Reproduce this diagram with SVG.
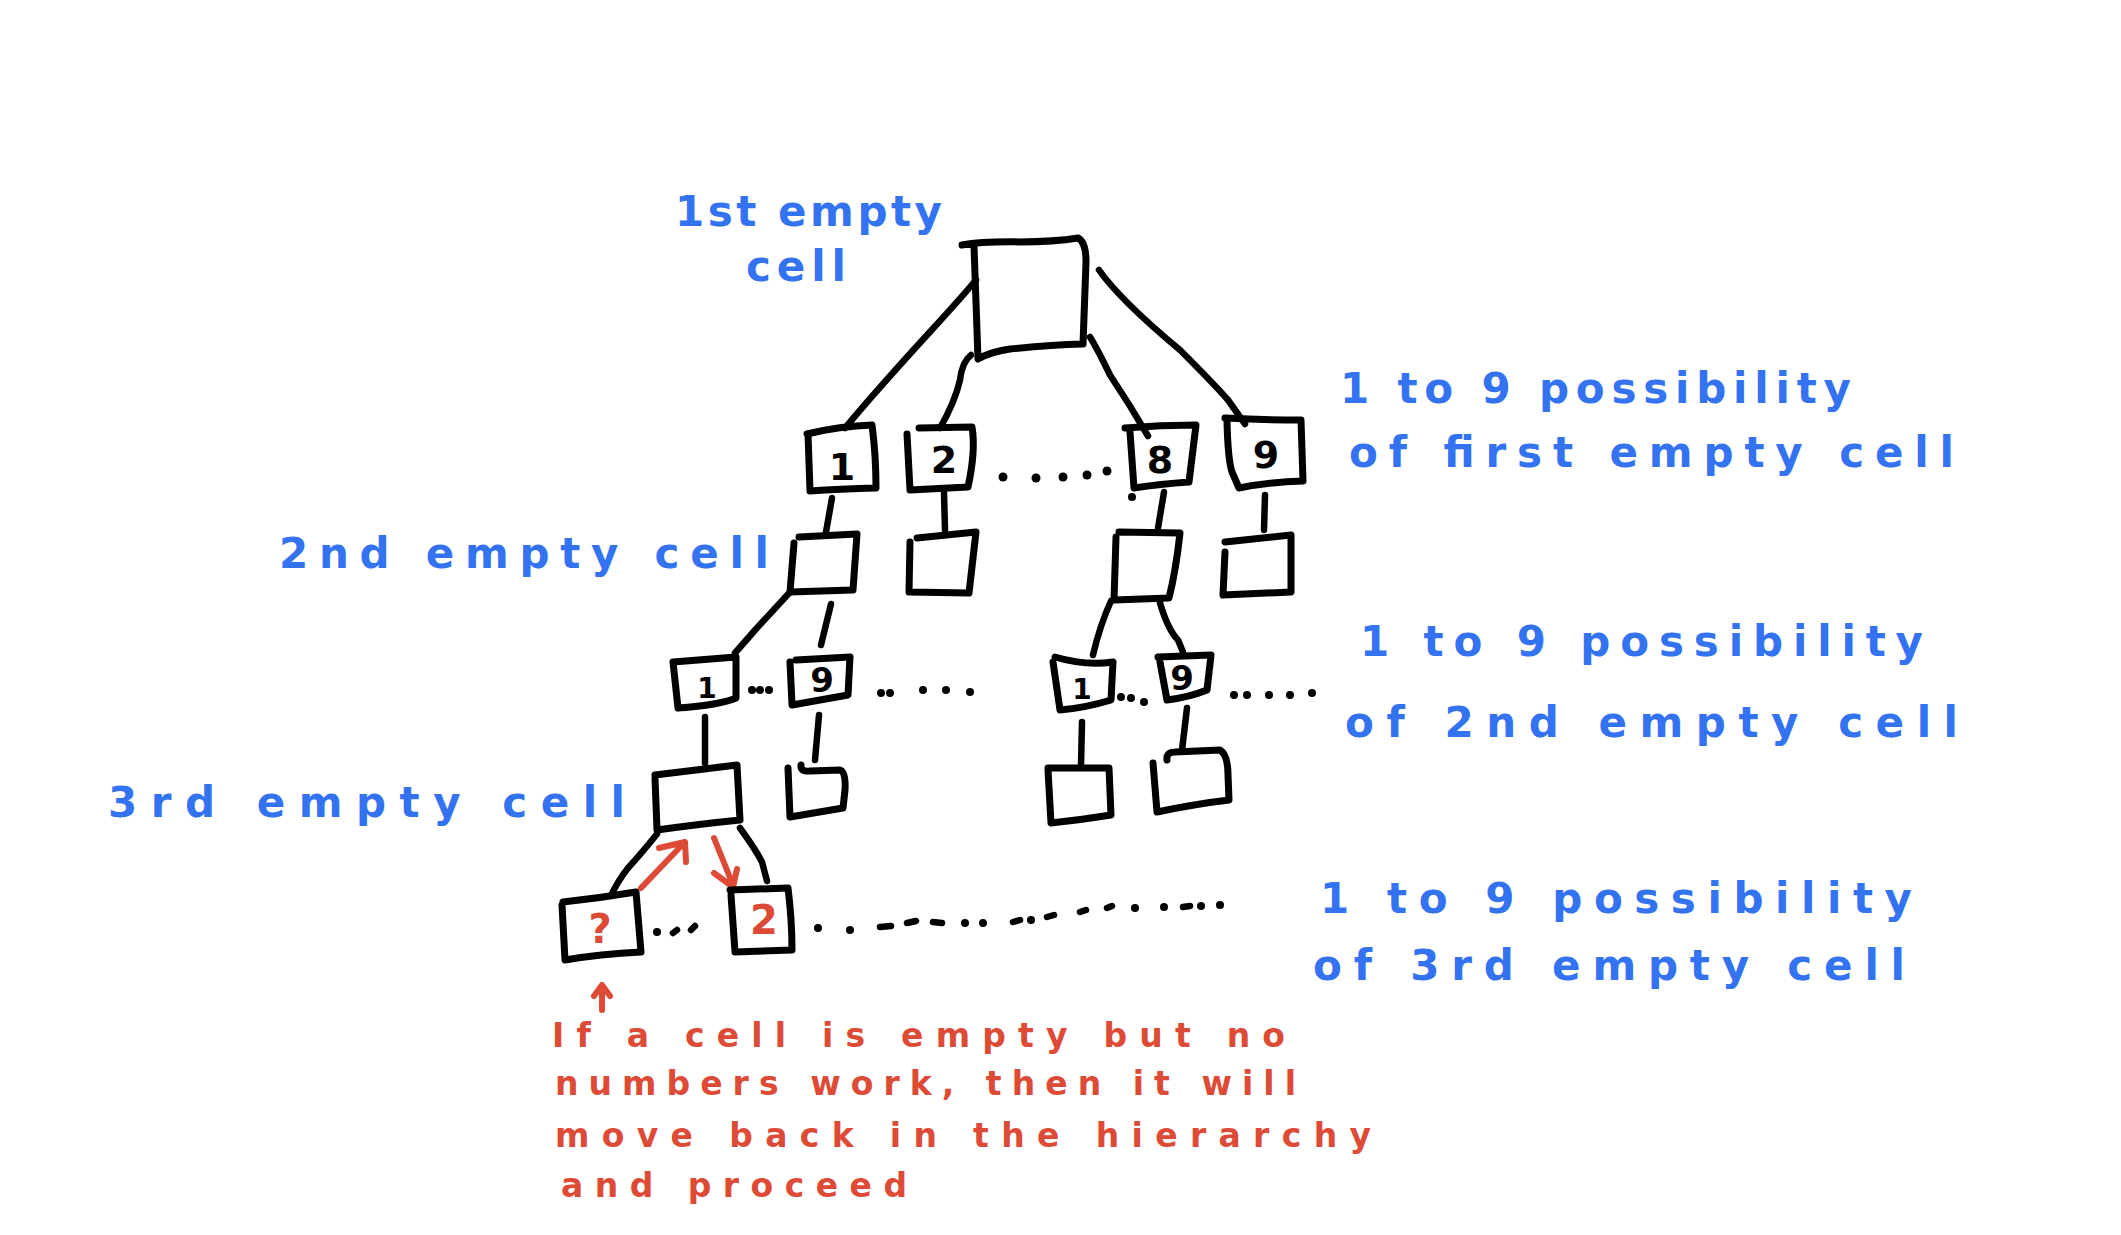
<svg xmlns="http://www.w3.org/2000/svg" width="2121" height="1235" viewBox="0 0 2121 1235">
<style>
.bx{fill:none;stroke:#000;stroke-width:7;stroke-linecap:round;stroke-linejoin:round}
.ln{fill:none;stroke:#000;stroke-width:6.5;stroke-linecap:round;stroke-linejoin:round}
.rl{fill:none;stroke:#DD4A36;stroke-width:6;stroke-linecap:round;stroke-linejoin:round}
.dt{fill:#000}
.bl{fill:#3372F0;font-family:"DejaVu Sans","Noto Sans",sans-serif;font-size:42px;font-weight:700}
.rd{fill:#DD4A36;font-family:"DejaVu Sans","Noto Sans",sans-serif;font-size:33px;font-weight:700}
.nm{fill:#000;font-family:"DejaVu Sans","Noto Sans",sans-serif;font-weight:700;text-anchor:middle}
.nr{fill:#DD4A36;font-family:"DejaVu Sans","Noto Sans",sans-serif;font-weight:700;text-anchor:middle;font-size:40px}
</style>
<rect width="2121" height="1235" fill="#fff"/>

<g id="connectors">
  <path class="ln" d="M976 280 C950 312 900 362 845 428"/>
  <path class="ln" d="M971 355 Q962 362 960 380 Q955 402 940 428"/>
  <path class="ln" d="M1090 337 Q1098 350 1110 375 Q1130 405 1148 436"/>
  <path class="ln" d="M1099 270 Q1120 300 1180 350 Q1215 385 1228 400 L1245 424"/>
  <path class="ln" d="M832 498 L826 532"/>
  <path class="ln" d="M944 493 L945 530"/>
  <path class="ln" d="M1164 492 L1158 528"/>
  <path class="ln" d="M1265 495 L1264 530"/>
  <path class="ln" d="M791 591 L756 629 L735 653"/>
  <path class="ln" d="M831 604 L821 645"/>
  <path class="ln" d="M1111 601 Q1100 625 1093 655"/>
  <path class="ln" d="M1160 603 Q1168 630 1178 640 L1183 652"/>
  <path class="ln" d="M705 717 L705 763"/>
  <path class="ln" d="M819 715 L815 760"/>
  <path class="ln" d="M1082 722 L1081 765"/>
  <path class="ln" d="M1187 708 L1182 750"/>
  <path class="ln" d="M657 834 Q640 855 628 868 Q617 882 611 896"/>
  <path class="ln" d="M740 828 Q756 850 762 862 L767 881"/>
  <path class="rl" d="M641 888 L683 844 M659 848 L685 842 L686 862"/>
  <path class="rl" d="M714 838 L733 885 M714 873 L733 887 L737 869"/>
  <path class="rl" d="M602 1010 L602 987 M594 996 L602 985 L610 996"/>
</g>

<g id="dots">
  <circle class="dt" cx="1003" cy="477" r="4.5"/>
  <circle class="dt" cx="1036" cy="478" r="4.5"/>
  <circle class="dt" cx="1063" cy="477" r="4.5"/>
  <circle class="dt" cx="1087" cy="475" r="4.5"/>
  <circle class="dt" cx="1107" cy="471" r="4.5"/>
  <circle class="dt" cx="1132" cy="497" r="4"/>
  <circle class="dt" cx="752" cy="690" r="4"/>
  <circle class="dt" cx="760" cy="690" r="4"/>
  <circle class="dt" cx="769" cy="690" r="4"/>
  <circle class="dt" cx="881" cy="693" r="4"/>
  <circle class="dt" cx="890" cy="693" r="4"/>
  <circle class="dt" cx="923" cy="690" r="4"/>
  <circle class="dt" cx="946" cy="690" r="4"/>
  <circle class="dt" cx="970" cy="692" r="4"/>
  <circle class="dt" cx="1121" cy="697" r="4"/>
  <circle class="dt" cx="1131" cy="698" r="4"/>
  <circle class="dt" cx="1144" cy="702" r="4"/>
  <circle class="dt" cx="1234" cy="695" r="4"/>
  <circle class="dt" cx="1247" cy="695" r="4"/>
  <circle class="dt" cx="1269" cy="695" r="4"/>
  <circle class="dt" cx="1290" cy="695" r="4"/>
  <circle class="dt" cx="1312" cy="693" r="4"/>
  <circle class="dt" cx="657" cy="932" r="4"/>
  <path class="ln" d="M673 933 L677 930 M691 930 L695 926"/>
  <circle class="dt" cx="818" cy="928" r="4"/>
  <circle class="dt" cx="850" cy="930" r="4"/>
  <path class="ln" d="M880 927 L891 926 M907 923 L916 921 M933 922 L942 923 M1013 922 L1020 920 M1047 917 L1054 915 M1080 912 L1086 910 M1107 908 L1112 906 M1183 907 L1190 906"/>
  <circle class="dt" cx="965" cy="923" r="4"/>
  <circle class="dt" cx="983" cy="923" r="4"/>
  <circle class="dt" cx="1031" cy="920" r="4"/>
  <circle class="dt" cx="1135" cy="908" r="4"/>
  <circle class="dt" cx="1164" cy="907" r="4"/>
  <circle class="dt" cx="1201" cy="906" r="4"/>
  <circle class="dt" cx="1220" cy="905" r="4"/>
</g>

<g id="root"><path class="bx" d="M962 245 C1000 238 1030 246 1078 238 Q1086 242 1086 262 L1083 344 Q1050 345 1010 349 Q990 352 978 359 L974 246"/></g>

<g id="n1"><path class="bx" d="M807 434 Q840 426 872 425 Q876 455 876 488 Q840 489 810 491 L808 434"/><text class="nm" x="842" y="480" font-size="38">1</text></g>
<g id="n2"><path class="bx" d="M919 428 L972 427 Q976 450 968 487 L910 490 L907 434"/><text class="nm" x="944" y="473" font-size="38">2</text></g>
<g id="n8"><path class="bx" d="M1125 428 Q1160 425 1196 425 L1189 482 Q1160 484 1134 488 L1130 432"/><text class="nm" x="1160" y="473" font-size="38">8</text></g>
<g id="n9"><path class="bx" d="M1225 418 Q1265 420 1301 420 L1303 481 Q1270 482 1239 488 L1232 472 Q1228 460 1227 422"/><text class="nm" x="1266" y="468" font-size="38">9</text></g>

<g id="a"><path class="bx" d="M799 537 L857 534 L853 590 L790 592 L794 543"/></g>
<g id="b"><path class="bx" d="M917 538 L976 532 L969 593 L909 592 L910 542"/></g>
<g id="c"><path class="bx" d="M1119 532 L1180 533 Q1176 570 1169 598 L1114 600 L1116 537"/></g>
<g id="d"><path class="bx" d="M1225 542 L1291 535 L1291 592 L1223 595 L1225 552"/></g>

<g id="a1"><path class="bx" d="M673 662 L736 657 L736 698 Q720 705 678 708 L673 662"/><text class="nm" x="707" y="698" font-size="28">1</text></g>
<g id="a9"><path class="bx" d="M796 660 L850 657 L848 695 L792 705 L790 662"/><text class="nm" x="822" y="692" font-size="34">9</text></g>
<g id="c1"><path class="bx" d="M1055 657 Q1085 666 1113 662 L1111 700 Q1085 708 1060 710 L1053 662"/><text class="nm" x="1082" y="699" font-size="28">1</text></g>
<g id="c9"><path class="bx" d="M1158 657 L1211 655 L1207 690 Q1190 697 1167 700 L1160 662"/><text class="nm" x="1182" y="690" font-size="34">9</text></g>

<g id="e"><path class="bx" d="M655 775 L737 765 L740 820 Q700 824 657 830 L655 778"/></g>
<g id="f"><path class="bx" d="M801 765 Q800 772 810 771 L840 770 Q846 772 845 790 L843 808 Q820 812 790 817 L788 768"/></g>
<g id="g"><path class="bx" d="M1048 768 L1109 768 L1111 815 Q1080 820 1051 823 L1048 770"/></g>
<g id="h"><path class="bx" d="M1167 760 Q1166 752 1175 752 L1220 750 Q1228 755 1228 775 L1229 800 Q1195 804 1157 812 L1153 763"/></g>

<g id="q"><path class="bx" d="M563 902 Q600 898 636 892 L641 952 Q600 954 565 960 L562 905"/><text class="nr" x="600" y="943">?</text></g>
<g id="two"><path class="bx" d="M730 890 L788 888 Q792 920 792 950 L735 952 L731 895"/><text class="nr" x="764" y="934">2</text></g>

<g id="labels">
  <text class="bl" x="675" y="226" textLength="267" lengthAdjust="spacing">1st empty</text>
  <text class="bl" x="746" y="281" textLength="100" lengthAdjust="spacing">cell</text>
  <text class="bl" x="1340" y="403" textLength="511" lengthAdjust="spacing">1 to 9 possibility</text>
  <text class="bl" x="1349" y="467" textLength="605" lengthAdjust="spacing">of first empty cell</text>
  <text class="bl" x="279" y="568" textLength="490" lengthAdjust="spacing">2nd empty cell</text>
  <text class="bl" x="1360" y="656" textLength="563" lengthAdjust="spacing">1 to 9 possibility</text>
  <text class="bl" x="1345" y="737" textLength="613" lengthAdjust="spacing">of 2nd empty cell</text>
  <text class="bl" x="108" y="817" textLength="517" lengthAdjust="spacing">3rd empty cell</text>
  <text class="bl" x="1320" y="913" textLength="592" lengthAdjust="spacing">1 to 9 possibility</text>
  <text class="bl" x="1313" y="980" textLength="592" lengthAdjust="spacing">of 3rd empty cell</text>
  <text class="rd" x="552" y="1047" textLength="733" lengthAdjust="spacing">If a cell is empty but no</text>
  <text class="rd" x="555" y="1095" textLength="741" lengthAdjust="spacing">numbers work, then it will</text>
  <text class="rd" x="555" y="1147" textLength="816" lengthAdjust="spacing">move back in the hierarchy</text>
  <text class="rd" x="561" y="1197" textLength="346" lengthAdjust="spacing">and proceed</text>
</g>
</svg>
